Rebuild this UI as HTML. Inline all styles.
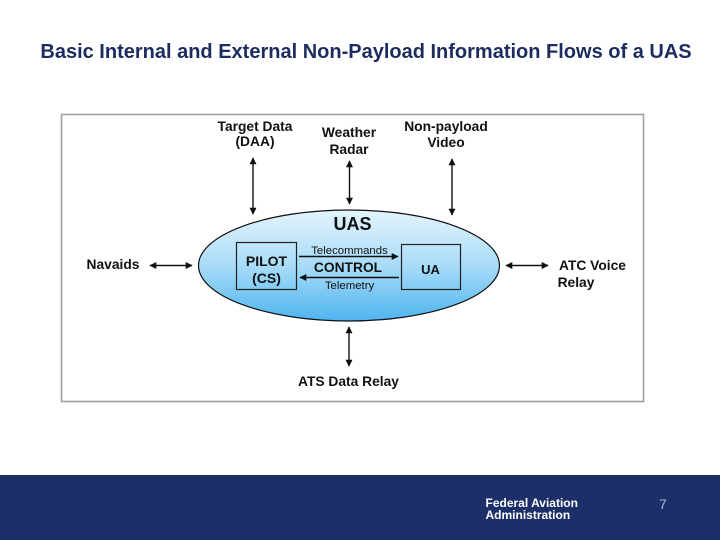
<!DOCTYPE html>
<html><head><meta charset="utf-8"><style>
html,body{margin:0;padding:0;background:#fff;width:720px;height:540px;overflow:hidden}
svg{display:block}
text{font-family:"Liberation Sans",Arial,sans-serif}
.b{font-weight:bold;font-size:13.8px;fill:#111;text-anchor:middle}
</style></head><body>
<svg width="720" height="540" viewBox="0 0 720 540" xmlns="http://www.w3.org/2000/svg">
<defs>
<linearGradient id="g" x1="0" y1="0" x2="0" y2="1"><stop offset="0" stop-color="#e4f4fd"/><stop offset="0.5" stop-color="#a8dcf8"/><stop offset="1" stop-color="#4fb4f0"/></linearGradient>
<marker id="a" viewBox="0 0 10 10" refX="9" refY="5" markerWidth="9" markerHeight="7" orient="auto-start-reverse" markerUnits="userSpaceOnUse"><path d="M0 0L10 5L0 10z" fill="#111"/></marker>
</defs>
<rect width="720" height="540" fill="#fff"/>
<text x="366" y="58" text-anchor="middle" font-size="20" font-weight="bold" fill="#1c2c5e">Basic Internal and External Non-Payload Information Flows of a UAS</text>
<rect x="61.5" y="114.5" width="582" height="287" fill="#fff" stroke="#a0a0a0" stroke-width="1.6"/>
<ellipse cx="349" cy="265.5" rx="150.5" ry="55.5" fill="url(#g)" stroke="#111" stroke-width="1.2"/>
<rect x="236.5" y="242.5" width="60" height="47" fill="none" stroke="#222" stroke-width="1.2"/>
<rect x="401.5" y="244.5" width="59" height="45" fill="none" stroke="#222" stroke-width="1.2"/>
<g stroke="#111" stroke-width="1.4" fill="none">
<line x1="253" y1="158" x2="253" y2="214" marker-start="url(#a)" marker-end="url(#a)"/>
<line x1="349.500" y1="161" x2="349.500" y2="204" marker-start="url(#a)" marker-end="url(#a)"/>
<line x1="452" y1="159" x2="452" y2="215" marker-start="url(#a)" marker-end="url(#a)"/>
<line x1="150" y1="265.500" x2="192" y2="265.500" marker-start="url(#a)" marker-end="url(#a)"/>
<line x1="506" y1="265.500" x2="548" y2="265.500" marker-start="url(#a)" marker-end="url(#a)"/>
<line x1="349" y1="327" x2="349" y2="366" marker-start="url(#a)" marker-end="url(#a)"/>
<line x1="299" y1="256.500" x2="398" y2="256.500" marker-end="url(#a)"/>
<line x1="399" y1="277.500" x2="300" y2="277.500" marker-end="url(#a)"/>
</g>
<text class="b" x="255" y="131">Target Data</text>
<text class="b" x="255" y="146">(DAA)</text>
<text class="b" x="349" y="137">Weather</text>
<text class="b" x="349" y="154">Radar</text>
<text class="b" x="446" y="131">Non-payload</text>
<text class="b" x="446" y="147">Video</text>
<text class="b" x="113" y="269">Navaids</text>
<text class="b" x="592.500" y="270">ATC Voice</text>
<text class="b" x="576" y="287">Relay</text>
<text class="b" x="348.500" y="386">ATS Data Relay</text>
<text x="352.500" y="230" text-anchor="middle" font-size="18" font-weight="bold" fill="#111">UAS</text>
<text class="b" x="266.500" y="266" style="font-size:14px">PILOT</text>
<text class="b" x="266.500" y="283" style="font-size:14px">(CS)</text>
<text class="b" x="348" y="272" style="font-size:13.800px">CONTROL</text>
<text class="b" x="430.500" y="274" style="font-size:13px">UA</text>
<text x="349.500" y="254" text-anchor="middle" font-size="11.400" fill="#111">Telecommands</text>
<text x="349.500" y="289" text-anchor="middle" font-size="11.400" fill="#111">Telemetry</text>
<rect x="0" y="475" width="720" height="65" fill="#1c2f69"/>
<text x="485.500" y="507" font-size="12" font-weight="bold" fill="#fff">Federal Aviation</text>
<text x="485.500" y="519" font-size="12" font-weight="bold" fill="#fff">Administration</text>
<text x="659" y="509" font-size="14" fill="#a9b5d6">7</text>
</svg>
</body></html>
